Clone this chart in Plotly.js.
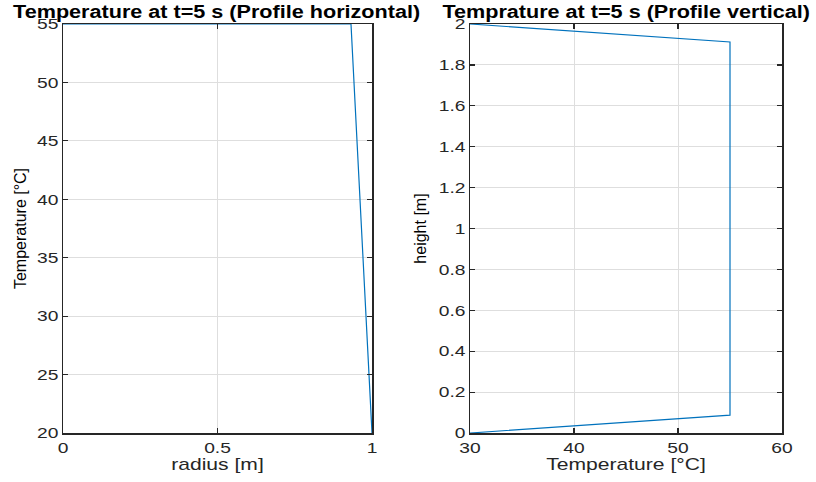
<!DOCTYPE html>
<html>
<head>
<meta charset="utf-8">
<script src="https://cdn.plot.ly/plotly-3.0.1.min.js"></script>
<style>html,body{margin:0;padding:0;background:#fff;}#chart{width:816px;height:482px;}</style>
</head>
<body>
<div id="chart"></div>
<script>
// Horizontal profile: radius [m] vs temperature [°C]
const radius = [0, 0.932, 1];
const tempHoriz = [55, 55, 20];
// Vertical profile: temperature [°C] vs height [m]
const tempVert = [30, 55, 55, 30];
const height = [2, 1.912, 0.087, 0];

const xTicksL = [0, 0.5, 1];
const xTickTextL = ['0', '0.5', '1'];
const yTicksL = [20, 25, 30, 35, 40, 45, 50, 55];
const xTicksR = [30, 40, 50, 60];
const yTicksR = [0, 0.2, 0.4, 0.6, 0.8, 1, 1.2, 1.4, 1.6, 1.8, 2];
const yTickTextR = ['0', '0.2', '0.4', '0.6', '0.8', '1', '1.2', '1.4', '1.6', '1.8', '2'];

const lineColor = '#0072BD';
const font = 'Liberation Sans, Arial, sans-serif';
const axisCommon = {
  showline: true, mirror: 'allticks', linecolor: '#262626', linewidth: 1.5,
  ticks: 'inside', ticklen: 5, tickcolor: '#262626', tickwidth: 1.2,
  showgrid: true, gridcolor: '#dedede', gridwidth: 1,
  zeroline: false, tickfont: {family: font, size: 15, color: '#262626'},
  fixedrange: true
};

const traces = [
  {x: radius, y: tempHoriz, type: 'scatter', mode: 'lines', line: {color: lineColor, width: 1.2}, xaxis: 'x', yaxis: 'y', showlegend: false},
  {x: tempVert, y: height, type: 'scatter', mode: 'lines', line: {color: lineColor, width: 1.2}, xaxis: 'x2', yaxis: 'y2', showlegend: false}
];

const yDom = [1 - 433/482, 1 - 24/482];
const layout = {
  width: 816, height: 482,
  margin: {l: 0, r: 0, t: 0, b: 0},
  paper_bgcolor: '#fff', plot_bgcolor: '#fff',
  xaxis: Object.assign({}, axisCommon, {domain: [63/816, 372/816], range: [0, 1], tickvals: xTicksL, ticktext: xTickTextL,
    title: {text: 'radius [m]', font: {family: font, size: 17, color: '#262626'}, standoff: 3}, anchor: 'y'}),
  yaxis: Object.assign({}, axisCommon, {domain: yDom, range: [20, 55], tickvals: yTicksL,
    title: {text: 'Temperature [°C]', font: {family: font, size: 16, color: '#000'}, standoff: 11}, anchor: 'x'}),
  xaxis2: Object.assign({}, axisCommon, {domain: [470/816, 782/816], range: [30, 60], tickvals: xTicksR,
    title: {text: 'Temperature [°C]', font: {family: font, size: 17, color: '#262626'}, standoff: 3}, anchor: 'y2'}),
  yaxis2: Object.assign({}, axisCommon, {domain: yDom, range: [0, 2], tickvals: yTicksR, ticktext: yTickTextR,
    title: {text: 'height [m]', font: {family: font, size: 16, color: '#000'}, standoff: 14}, anchor: 'x2'}),
  annotations: [
    {text: 'Temperature at t=5 s (Profile horizontal)', xref: 'paper', yref: 'paper', x: 216/816, y: 1 - 12/482,
     xanchor: 'center', yanchor: 'middle', showarrow: false, font: {family: font, size: 18, weight: 'bold', color: '#000'}},
    {text: 'Temprature at t=5 s (Profile vertical)', xref: 'paper', yref: 'paper', x: 626/816, y: 1 - 12/482,
     xanchor: 'center', yanchor: 'middle', showarrow: false, font: {family: font, size: 18, weight: 'bold', color: '#000'}}
  ]
};

// The reference renders its horizontal text wider than normal; widen glyphs to match.
function widen() {
  const groups = [
    ['.xtick text, .x2tick text, .ytick text, .y2tick text', 1.28],
    ['.g-xtitle text, .g-x2title text', 1.24],
    ['.annotation-text', 1.2]
  ];
  groups.forEach(([sel, f]) => {
    document.querySelectorAll('#chart ' + sel).forEach(el => {
      const w = el.getComputedTextLength();
      if (w > 0) {
        el.setAttribute('textLength', (w * f).toFixed(2));
        el.setAttribute('lengthAdjust', 'spacingAndGlyphs');
      }
    });
  });
}

Plotly.newPlot('chart', traces, layout, {displayModeBar: false, staticPlot: true}).then(widen);
</script>
</body>
</html>
